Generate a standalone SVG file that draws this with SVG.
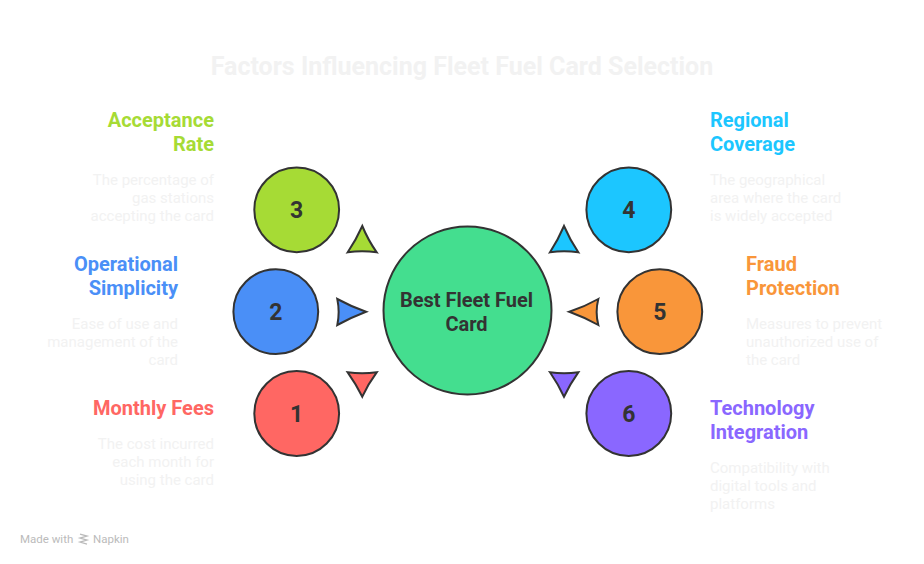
<svg xmlns="http://www.w3.org/2000/svg" width="924" height="564" viewBox="0 0 924 564">
<style>
.ttl{font-family:Roboto,"Liberation Sans",sans-serif;font-weight:700;font-size:20px}
.dsc{font-family:Roboto,"Liberation Sans",sans-serif;font-size:15px;fill:#f2f2f2}
.num{font-family:Roboto,"Liberation Sans",sans-serif;font-weight:700;font-size:23px;fill:#333;text-anchor:middle}
.c{stroke:#333;stroke-width:2}
.r{text-anchor:end}
</style>
<rect width="924" height="564" fill="#fff"/>
<text x="462" y="74.5" text-anchor="middle" style="font-family:Roboto,'Liberation Sans',sans-serif;font-weight:700;font-size:25px;fill:#f2f2f2">Factors Influencing Fleet Fuel Card Selection</text>
<g id="connectors">
<path class="c" fill="#A6DB35" d="M362.3 226 Q368 240 376.7 252.3 Q362 250 347.7 252.3 Q356 240 362.3 226Z"/>
<path class="c" fill="#4A8FF7" d="M337.3 299 Q352 307 366 311.7 Q352 317 337.3 325 Q340 312 337.3 299Z"/>
<path class="c" fill="#FF6763" d="M347.7 372.3 Q362 374 376.7 372.3 Q368 384 362.3 396.7 Q356 384 347.7 372.3Z"/>
<path class="c" fill="#1CC6FF" d="M564 226 Q570 240 578.3 252.3 Q564 250 550 252.3 Q558 240 564 226Z"/>
<path class="c" fill="#F9963A" d="M598.3 299 Q584 307 569.3 311.7 Q584 317 598.3 325 Q595 312 598.3 299Z"/>
<path class="c" fill="#8A67FF" d="M550 372.3 Q564 374 578.3 372.3 Q570 384 564 396.7 Q558 384 550 372.3Z"/>
</g>
<g id="center">
<circle class="c" cx="467.5" cy="310.5" r="84" fill="#44DE8F"/>
<text x="466.5" y="307" text-anchor="middle" style="font-family:Roboto,'Liberation Sans',sans-serif;font-weight:700;font-size:20px;fill:#333">Best Fleet Fuel</text>
<text x="466.5" y="331" text-anchor="middle" style="font-family:Roboto,'Liberation Sans',sans-serif;font-weight:700;font-size:20px;fill:#333">Card</text>
</g>
<g id="n3">
<circle class="c" cx="296.7" cy="209.8" r="42.4" fill="#A6DB35"/>
<text class="num" x="296.7" y="218">3</text>
<text class="ttl r" x="214" y="127" fill="#A6DB35">Acceptance</text>
<text class="ttl r" x="214" y="151" fill="#A6DB35">Rate</text>
<text class="dsc r" x="214" y="185">The percentage of</text>
<text class="dsc r" x="214" y="203">gas stations</text>
<text class="dsc r" x="214" y="221">accepting the card</text>
</g>
<g id="n2">
<circle class="c" cx="275.8" cy="311.7" r="42.4" fill="#4A8FF7"/>
<text class="num" x="275.8" y="320">2</text>
<text class="ttl r" x="178" y="271" fill="#4A8FF7">Operational</text>
<text class="ttl r" x="178" y="295" fill="#4A8FF7">Simplicity</text>
<text class="dsc r" x="178" y="329">Ease of use and</text>
<text class="dsc r" x="178" y="347">management of the</text>
<text class="dsc r" x="178" y="365">card</text>
</g>
<g id="n1">
<circle class="c" cx="296.7" cy="413.5" r="42.4" fill="#FF6763"/>
<text class="num" x="296.7" y="422">1</text>
<text class="ttl r" x="214" y="415" fill="#FF6763">Monthly Fees</text>
<text class="dsc r" x="214" y="449">The cost incurred</text>
<text class="dsc r" x="214" y="467">each month for</text>
<text class="dsc r" x="214" y="485">using the card</text>
</g>
<g id="n4">
<circle class="c" cx="628.8" cy="209.8" r="42.4" fill="#1CC6FF"/>
<text class="num" x="628.8" y="218">4</text>
<text class="ttl" x="710" y="127" fill="#1CC6FF">Regional</text>
<text class="ttl" x="710" y="151" fill="#1CC6FF">Coverage</text>
<text class="dsc" x="710" y="185">The geographical</text>
<text class="dsc" x="710" y="203">area where the card</text>
<text class="dsc" x="710" y="221">is widely accepted</text>
</g>
<g id="n5">
<circle class="c" cx="659.8" cy="311.7" r="42.4" fill="#F9963A"/>
<text class="num" x="659.8" y="320">5</text>
<text class="ttl" x="746" y="271" fill="#F9963A">Fraud</text>
<text class="ttl" x="746" y="295" fill="#F9963A">Protection</text>
<text class="dsc" x="746" y="329">Measures to prevent</text>
<text class="dsc" x="746" y="347">unauthorized use of</text>
<text class="dsc" x="746" y="365">the card</text>
</g>
<g id="n6">
<circle class="c" cx="628.8" cy="413.5" r="42.4" fill="#8A67FF"/>
<text class="num" x="628.8" y="422">6</text>
<text class="ttl" x="710" y="415" fill="#8A67FF">Technology</text>
<text class="ttl" x="710" y="439" fill="#8A67FF">Integration</text>
<text class="dsc" x="710" y="473">Compatibility with</text>
<text class="dsc" x="710" y="491">digital tools and</text>
<text class="dsc" x="710" y="509">platforms</text>
</g>
<g id="footer">
<text x="20" y="543" style="font-family:Roboto,'Liberation Sans',sans-serif;font-size:11.5px;fill:#bbb">Made with</text>
<path d="M80 534 L87 536 L80 538 L87 540 L80 542 L87 544" fill="none" stroke="#bbb" stroke-width="1.3"/>
<text x="93" y="543" style="font-family:Roboto,'Liberation Sans',sans-serif;font-size:11.5px;fill:#bbb">Napkin</text>
</g>
</svg>
